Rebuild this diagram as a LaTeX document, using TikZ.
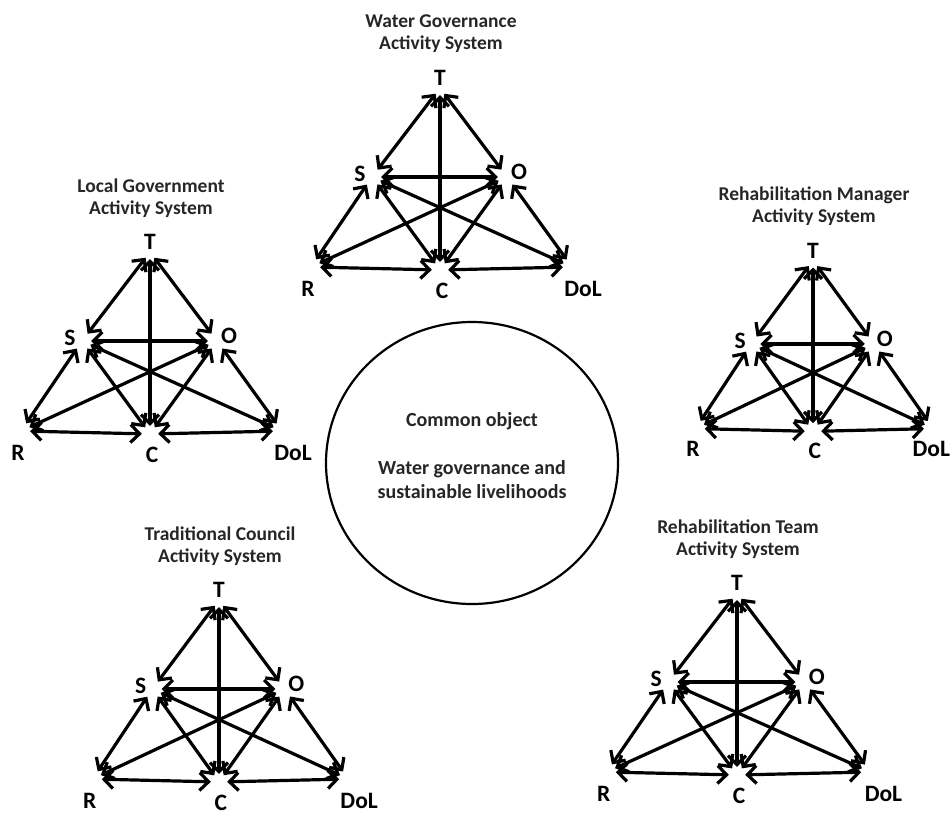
\documentclass[tikz,border=0pt]{standalone}
\usepackage{fontspec}
\setmainfont{Carlito}
\usetikzlibrary{arrows.meta,shapes.geometric}

\definecolor{titlecol}{HTML}{262626}

\tikzset{
  vtx/.style={circle, inner sep=0pt, minimum size=18pt},
  apexvtx/.style={circle, inner sep=0pt, minimum size=14pt},
  basevtx/.style={circle, inner sep=0pt, minimum size=16pt},
  barb/.tip={Straight Barb[length=9pt,width=18pt]},
  link/.style={line width=3.2pt, barb-barb},
  lbl/.style={font=\bfseries\fontsize{23.5}{27}\selectfont, inner sep=0pt},
  ttl/.style={font=\bfseries\fontsize{19.5}{22}\selectfont, align=center,
    inner sep=0pt, text=titlecol},
  commonbox/.style={draw, ellipse, line width=2.2pt, inner sep=0pt},
  commontxt/.style={font=\bfseries\fontsize{20}{24}\selectfont, align=center,
    inner sep=0pt, text=titlecol}
}

% One activity system: #1 name prefix, (#2,#3) apex of the triangle,
% #4/#5 x and y scale, #6/#7 title lines, #8 x offset of the DoL label
\newcommand\actsys[8]{%
  \begin{scope}[shift={(#2,#3)}]
    \node[ttl] (#1title) at (1,-59) {#6\\#7};
    \begin{scope}[xscale=#4, yscale=#5]
      \node[apexvtx] (#1T) at (0,-5) {};
      \node[vtx] (#1S) at (-68,84) {};
      \node[vtx] (#1O) at (67,84) {};
      \node[vtx] (#1R) at (-129,174) {};
      \node[basevtx] (#1C) at (0,177) {};
      \node[vtx] (#1D) at (132,174) {};
      \draw[link] (#1T) -- (#1S);
      \draw[link] (#1T) -- (#1O);
      \draw[link] (#1T) -- (#1C);
      \draw[link] (#1S) -- (#1O);
      \draw[link] (#1S) -- (#1R);
      \draw[link] (#1S) -- (#1C);
      \draw[link] (#1S) -- (#1D);
      \draw[link] (#1O) -- (#1R);
      \draw[link] (#1O) -- (#1C);
      \draw[link] (#1O) -- (#1D);
      \draw[link] (#1R) -- (#1C);
      \draw[link] (#1C) -- (#1D);
      \node[lbl] (#1lT) at (0,-15) {T};
      \node[lbl] (#1lS) at (-80,81) {S};
      \node[lbl] (#1lO) at (79,79) {O};
      \node[lbl] (#1lR) at (-132,196) {R};
      \node[lbl] (#1lC) at (2,198) {C};
      \node[lbl] (#1lD) at (#8,196) {DoL};
    \end{scope}
  \end{scope}%
}

\begin{document}
\begin{tikzpicture}[x=1pt, y=-1pt]
  \useasboundingbox (0,0) rectangle (951,816);

  % shared object in the middle
  \node[commonbox, minimum width=292pt, minimum height=282pt] (common) at (472,463) {};
  \node[commontxt] (commonlbl) at (472,456)
    {Common object\\[24pt]Water governance and\\sustainable livelihoods};

  \actsys{wg}{440}{93}{1}{1}{Water Governance}{Activity System}{143}
  \actsys{lg}{150}{257}{1}{1}{Local Government}{Activity System}{143}
  \actsys{rm}{813}{265}{0.91}{0.94}{Rehabilitation Manager}{Activity System}{130}
  \actsys{tc}{219}{605}{0.98}{1}{Traditional Council}{Activity System}{143}
  \actsys{rt}{737}{598}{1.01}{1}{Rehabilitation Team}{Activity System}{145}
\end{tikzpicture}
\end{document}
